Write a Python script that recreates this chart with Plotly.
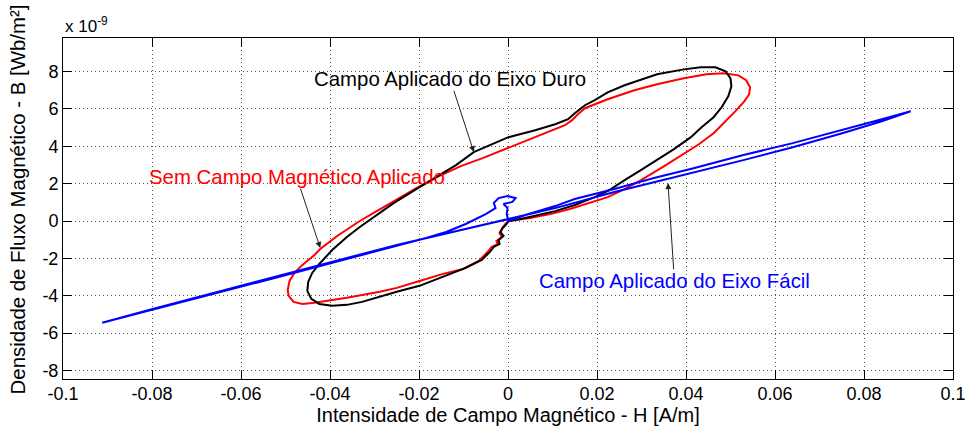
import plotly.graph_objects as go

# Magnetic field intensity H [A/m] and flux density B [x 1e-9 Wb/m^2]

# Hard-axis applied field (black loop)
h_duro = [0.0001, -0.0003, -0.0012, -0.0017, -0.0010, -0.0021, -0.0019, -0.0032, -0.0041, -0.0059,
          -0.0095, -0.0146, -0.0199, -0.0250, -0.0288, -0.0328, -0.0362, -0.0395, -0.0424, -0.0442,
          -0.0451, -0.0449, -0.0440, -0.0424, -0.0395, -0.0362, -0.0333, -0.0295, -0.0257, -0.0206,
          -0.0161, -0.0117, -0.0077, -0.0039, 0.0001, 0.0061, 0.0106, 0.0135, 0.0150, 0.0173,
          0.0195, 0.0224, 0.0262, 0.0335, 0.0395, 0.0433, 0.0466, 0.0489, 0.0500, 0.0502,
          0.0495, 0.0480, 0.0462, 0.0435, 0.0411, 0.0373, 0.0335, 0.0295, 0.0262, 0.0228,
          0.0195, 0.0150, 0.0106, 0.0061, 0.0028, 0.0001]
b_duro = [0.00, -0.16, -0.37, -0.59, -0.80, -1.02, -1.23, -1.39, -1.66, -2.08,
          -2.51, -2.99, -3.47, -3.79, -4.06, -4.33, -4.49, -4.54, -4.44, -4.17,
          -3.74, -3.26, -2.78, -2.30, -1.55, -0.86, -0.32, 0.32, 0.96, 1.71,
          2.35, 2.99, 3.69, 4.06, 4.49, 4.86, 5.18, 5.45, 5.77, 6.20,
          6.47, 6.89, 7.27, 7.86, 8.12, 8.23, 8.23, 8.02, 7.64, 7.21,
          6.68, 6.09, 5.56, 5.02, 4.49, 3.85, 3.26, 2.67, 2.19, 1.66,
          1.28, 0.86, 0.53, 0.27, 0.11, 0.00]

# No applied field (red loop)
h_sem = [0.0001, -0.0006, -0.0014, -0.0019, -0.0014, -0.0026, -0.0023, -0.0037, -0.0046, -0.0066,
         -0.0101, -0.0146, -0.0199, -0.0250, -0.0288, -0.0362, -0.0435, -0.0462, -0.0482, -0.0493,
         -0.0495, -0.0491, -0.0480, -0.0462, -0.0435, -0.0422, -0.0384, -0.0333, -0.0295, -0.0257,
         -0.0206, -0.0155, -0.0106, -0.0057, -0.0006, 0.0046, 0.0095, 0.0128, 0.0144, 0.0157,
         0.0173, 0.0195, 0.0224, 0.0284, 0.0335, 0.0395, 0.0446, 0.0484, 0.0518, 0.0535,
         0.0544, 0.0542, 0.0531, 0.0509, 0.0484, 0.0462, 0.0429, 0.0395, 0.0351, 0.0299,
         0.0262, 0.0224, 0.0184, 0.0139, 0.0095, 0.0050, 0.0001]
b_sem = [0.00, -0.16, -0.43, -0.64, -0.86, -1.07, -1.23, -1.39, -1.66, -2.14,
         -2.57, -2.83, -3.21, -3.58, -3.79, -4.11, -4.38, -4.44, -4.33, -4.01,
         -3.69, -3.21, -2.78, -2.35, -1.82, -1.50, -0.80, 0.00, 0.53, 1.07,
         1.76, 2.40, 2.94, 3.37, 3.85, 4.38, 4.81, 5.13, 5.40, 5.72,
         6.04, 6.25, 6.52, 7.00, 7.32, 7.64, 7.86, 7.91, 7.80, 7.54,
         7.16, 6.79, 6.41, 5.83, 5.24, 4.70, 4.11, 3.58, 2.94, 2.19,
         1.71, 1.28, 0.96, 0.64, 0.37, 0.16, 0.00]

# Easy-axis applied field (blue loop)
h_facil = [0.0001, 0.0039, 0.0106, 0.0150, 0.0239, 0.0328, 0.0417, 0.0529, 0.0640, 0.0751,
           0.0840, 0.0905, 0.0840, 0.0751, 0.0640, 0.0529, 0.0417, 0.0328, 0.0239, 0.0173,
           0.0106, 0.0039, 0.0001, -0.0050, -0.0139, -0.0250, -0.0362, -0.0473, -0.0584, -0.0696,
           -0.0807, -0.0912, -0.0807, -0.0696, -0.0584, -0.0473, -0.0362, -0.0250, -0.0184, -0.0139,
           -0.0095, -0.0050, -0.0028, -0.0032, -0.0021, -0.0001, 0.0017, 0.0010, -0.0010, -0.0001,
           -0.0003, 0.0001]
b_facil = [0.00, 0.32, 0.80, 1.18, 1.71, 2.30, 2.83, 3.53, 4.17, 4.86,
           5.45, 5.88, 5.34, 4.70, 3.95, 3.26, 2.62, 2.08, 1.55, 1.12,
           0.69, 0.32, 0.11, -0.16, -0.64, -1.28, -1.98, -2.67, -3.37, -4.06,
           -4.76, -5.45, -4.81, -4.11, -3.42, -2.73, -2.03, -1.34, -0.91, -0.59,
           -0.16, 0.37, 0.69, 0.96, 1.23, 1.34, 1.23, 1.02, 0.91, 0.69,
           0.37, 0.00]

x_ticks = [-0.1, -0.08, -0.06, -0.04, -0.02, 0, 0.02, 0.04, 0.06, 0.08, 0.1]
x_tick_text = ["-0.1", "-0.08", "-0.06", "-0.04", "-0.02", "0", "0.02", "0.04", "0.06", "0.08", "0.1"]
y_ticks = [-8, -6, -4, -2, 0, 2, 4, 6, 8]
y_tick_text = ["-8", "-6", "-4", "-2", "0", "2", "4", "6", "8"]

FONT = "Liberation Sans, Arial, sans-serif"

fig = go.Figure()
fig.add_trace(go.Scatter(x=h_sem, y=b_sem, mode="lines",
                         line=dict(color="#ff0000", width=2), name="Sem Campo Magnético Aplicado"))
fig.add_trace(go.Scatter(x=h_duro, y=b_duro, mode="lines",
                         line=dict(color="#000000", width=2), name="Campo Aplicado do Eixo Duro"))
fig.add_trace(go.Scatter(x=h_facil, y=b_facil, mode="lines",
                         line=dict(color="#0000ff", width=2), name="Campo Aplicado do Eixo Fácil"))

axis_common = dict(
    showline=True, linecolor="#000000", linewidth=1, mirror="ticks",
    ticks="inside", ticklen=9, tickwidth=1, tickcolor="#000000",
    showgrid=True, gridcolor="#555555", gridwidth=1, griddash="1px,3px",
    zeroline=False,
    tickfont=dict(family=FONT, size=18, color="#000000"),
)

fig.update_xaxes(range=[-0.1, 0.1], tickvals=x_ticks, ticktext=x_tick_text,
                 ticklabelstandoff=-2,
                 title=dict(text="Intensidade de Campo Magnético - H [A/m]", standoff=0,
                            font=dict(family=FONT, size=20, color="#000000")),
                 **axis_common)
fig.update_yaxes(range=[-8.46, 9.8], tickvals=y_ticks, ticktext=y_tick_text, **axis_common)

# Curve labels: text centred at (tx, ty), arrow pointing to (px, py) on the curve
labels = [
    ("Campo Aplicado do Eixo Duro", "#000000", -0.0130, 7.59, -0.00768, 3.69),
    ("Sem Campo Magnético Aplicado", "#ff0000", -0.0475, 2.35, -0.04219, -1.44),
    ("Campo Aplicado do Eixo Fácil", "#0000ff", 0.0374, -3.21, 0.03595, 2.03),
]
annotations = []
for text, color, tx, ty, px, py in labels:
    annotations.append(dict(x=px, y=py, ax=tx, ay=ty, xref="x", yref="y",
                            axref="x", ayref="y", text=text, showarrow=True,
                            font=dict(family=FONT, size=20.4, color=color),
                            arrowhead=2, arrowsize=1.2, arrowwidth=1, arrowcolor="#222222",
                            borderpad=0))

# B-axis title, set slightly above the axis centre
annotations.append(dict(x=-0.0504, y=0.527, xref="paper", yref="paper",
                        text="Densidade de Fluxo Magnético - B [Wb/m²]", showarrow=False,
                        textangle=-90, font=dict(family=FONT, size=20.4, color="#000000"),
                        xanchor="center", yanchor="middle"))

# Exponent label above the B axis
annotations.append(dict(x=0.0, y=1.0, xref="paper", yref="paper",
                        text="x 10<sup>-9</sup>", showarrow=False,
                        font=dict(family=FONT, size=17, color="#000000"),
                        xanchor="left", yanchor="bottom"))

fig.update_layout(
    width=978, height=430,
    margin=dict(l=63, r=16, t=38, b=51),
    paper_bgcolor="#ffffff", plot_bgcolor="#ffffff",
    showlegend=False,
    annotations=annotations,
    font=dict(family=FONT),
)

fig.write_html("out.html")
